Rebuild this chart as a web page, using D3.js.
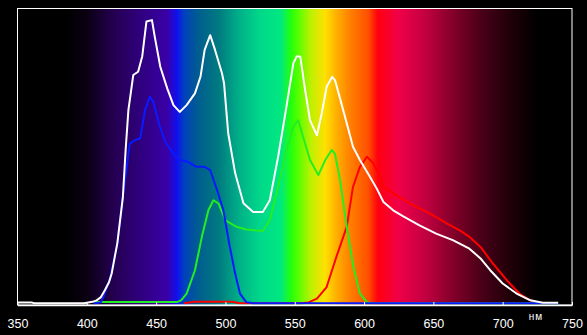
<!DOCTYPE html>
<html>
<head>
<meta charset="utf-8">
<script src="https://cdn.jsdelivr.net/npm/d3@7"></script>
<style>
  html, body { margin: 0; padding: 0; background: #000; }
  svg { display: block; }
</style>
</head>
<body>
<script>
// spectrum curves, wavelength (nm) and relative level (0-100)
var whiteNm = [350, 360, 362, 398, 400, 404, 407, 410, 413, 416, 418, 420, 422, 426, 428, 430, 433.5, 437, 440, 443, 447, 449, 453, 458, 462.5, 467, 472, 478, 482, 485, 489, 492.5, 497.5, 499, 502, 507, 513, 520, 527, 532, 538, 544, 549, 551.5, 554, 557.5, 561, 566, 569.5, 573, 577, 579, 583, 587.5, 592, 597, 604, 609, 614, 621, 628, 640, 652, 664, 676, 684, 691, 700, 710, 720, 729, 740];
var whiteVal = [0.3, 0.3, 0, 0, 0.2, 0.5, 1.0, 2.0, 4.4, 7.1, 10.2, 15.3, 20.3, 35.9, 51.9, 65.4, 77.3, 78.4, 83.7, 95.4, 95.9, 90.3, 80.1, 72.8, 67.1, 64.8, 67.1, 71.1, 76.7, 85.8, 90.8, 85.8, 77.9, 74.5, 57.6, 44.1, 33.9, 30.9, 30.9, 34.9, 49.6, 66.5, 81.3, 83.7, 83.5, 72.2, 62.0, 56.9, 64.4, 73.3, 76.7, 75.6, 68.8, 61.0, 53.0, 48.5, 43.0, 39.0, 34.3, 31.5, 29.5, 26.4, 23.6, 21.4, 18.5, 15.2, 11.2, 6.7, 3.3, 1.0, 0.2, 0.2];

var blueNm = [405, 410, 412, 417, 422, 426, 431, 435, 438.5, 442, 445.5, 448, 452, 456.5, 462.5, 467, 473, 479, 485, 489, 494, 498.5, 503, 507, 510.5, 515, 520, 740];
var blueVal = [0, 0.3, 2.1, 8.9, 20.2, 36.0, 54.1, 55.3, 55.8, 65.4, 69.9, 68.2, 60.9, 54.7, 50.7, 48.5, 47.9, 46.2, 46.2, 45.1, 38.3, 31.5, 19.5, 10.1, 3.3, 0.4, 0, 0];

var greenNm = [405, 465, 468, 472, 478, 483, 487.7, 491.3, 495, 500, 508, 515, 527, 532, 538, 544, 549, 552.5, 556, 561, 567, 572, 576.7, 579, 582.7, 587.5, 592.3, 597, 602, 605, 740];
var greenVal = [0.4, 0.4, 1.0, 3.3, 11.2, 22.5, 31.5, 34.9, 33.8, 28.1, 25.9, 25.0, 24.5, 28.1, 39.4, 51.9, 59.8, 62.0, 56.4, 48.5, 43.4, 48.5, 51.9, 50.7, 41.7, 25.9, 12.3, 3.3, 0.4, 0, 0];

var redNm = [470, 478, 505, 510, 555, 560, 566, 573, 580, 587.5, 592, 597, 602, 606.7, 611.5, 614, 621, 633, 647.5, 660, 669, 676, 684, 693, 703, 712, 722, 725];
var redVal = [0, 0.5, 0.5, 0, 0, 0.3, 1.6, 5.5, 15.7, 25.9, 39.4, 46.2, 49.6, 47.4, 42.8, 39.4, 37.2, 33.8, 30.4, 27.0, 24.7, 22.5, 19.1, 13.4, 7.8, 3.3, 0.4, 0];

// background spectrum
var specNm = [350, 385, 400, 420, 440, 458, 465, 470, 480, 495, 510, 525, 540, 547, 552, 562, 572, 580, 590, 603, 610, 625, 645, 665, 685, 705, 725, 750];
var specColor = ["#000000", "#000000", "#0a0012", "#250052", "#300080", "#3a00a8", "#1010f0", "#0040c0", "#005c90", "#007a80", "#00b088", "#00d88a", "#00e880", "#20ff10", "#50ff00", "#c0f000", "#ffe000", "#ffb000", "#ff8000", "#ff5000", "#ff0010", "#f00048", "#c00040", "#800028", "#480018", "#200008", "#000000", "#000000"];

var tickNm = [350, 400, 450, 500, 550, 600, 650, 700, 750];

var width = 587, height = 335;
var plotLeft = 17.5, plotRight = 572, plotTop = 8.5, plotBottom = 305;

var svg = d3.select("body").append("svg")
    .attr("width", width)
    .attr("height", height);

svg.append("rect")
    .attr("width", width)
    .attr("height", height)
    .attr("fill", "#000");

var x = d3.scaleLinear().domain([350, 750]).range([plotLeft, plotRight]);
var y = d3.scaleLinear().domain([0, 100]).range([303.3, 8]);

var grad = svg.append("defs").append("linearGradient")
    .attr("id", "spec")
    .attr("gradientUnits", "userSpaceOnUse")
    .attr("x1", x(350)).attr("x2", x(750))
    .attr("y1", 0).attr("y2", 0);

grad.selectAll("stop")
    .data(specNm)
    .enter().append("stop")
    .attr("offset", function(d) { return (d - 350) / 400; })
    .attr("stop-color", function(d, i) { return specColor[i]; });

svg.append("rect")
    .attr("x", plotLeft)
    .attr("y", plotTop)
    .attr("width", plotRight - plotLeft)
    .attr("height", plotBottom - plotTop)
    .attr("fill", "url(#spec)");

// frame
svg.append("rect")
    .attr("x", plotLeft)
    .attr("y", plotTop)
    .attr("width", plotRight - plotLeft)
    .attr("height", plotBottom - plotTop)
    .attr("fill", "none")
    .attr("stroke", "#fff")
    .attr("stroke-width", 1);

var line = d3.line()
    .x(function(d) { return x(d[0]); })
    .y(function(d) { return y(d[1]); });

function series(nm, val) {
    return nm.map(function(d, i) { return [d, val[i]]; });
}

var curves = [
    { data: series(redNm, redVal), color: "#ff0000" },
    { data: series(greenNm, greenVal), color: "#22ee22" },
    { data: series(blueNm, blueVal), color: "#0a1aff" },
    { data: series(whiteNm, whiteVal), color: "#ffffff" }
];

svg.selectAll("path.curve")
    .data(curves)
    .enter().append("path")
    .attr("class", "curve")
    .attr("d", function(d) { return line(d.data); })
    .attr("fill", "none")
    .attr("stroke", function(d) { return d.color; })
    .attr("stroke-width", 2)
    .attr("stroke-linejoin", "round");

// axis
var axis = svg.append("g")
    .attr("transform", "translate(0," + plotBottom + ")")
    .call(d3.axisBottom(x).tickValues(tickNm).tickSize(-3).tickSizeOuter(0).tickPadding(14.5));

axis.select(".domain").attr("stroke", "#fff").attr("stroke-width", 1.5);
axis.selectAll(".tick line").attr("stroke", "#fff");
axis.selectAll(".tick text")
    .attr("fill", "#fff")
    .style("font-family", "'Liberation Sans', Arial, sans-serif")
    .style("font-size", "12.5px");

svg.append("text")
    .attr("x", 536)
    .attr("y", 319.5)
    .attr("text-anchor", "middle")
    .attr("fill", "#fff")
    .style("font-family", "'Liberation Sans', Arial, sans-serif")
    .style("font-size", "10px")
    .style("letter-spacing", "1px")
    .text("нм");
</script>
</body>
</html>
